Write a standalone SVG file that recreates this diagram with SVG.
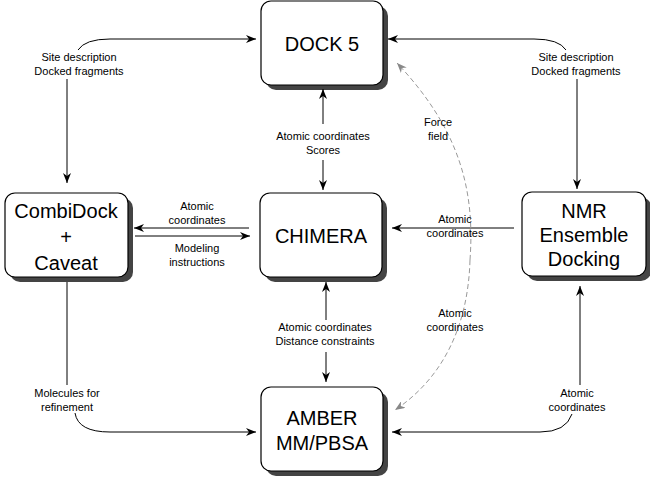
<svg xmlns="http://www.w3.org/2000/svg" width="650" height="477" viewBox="0 0 650 477">
<defs>
<marker id="a" viewBox="0 0 10 8" refX="10" refY="4" markerWidth="10" markerHeight="8" markerUnits="userSpaceOnUse" orient="auto"><path d="M0,0 L10,4 L0,8 L3,4 Z" fill="#000"/></marker>
<marker id="g" viewBox="0 0 10 8" refX="10" refY="4" markerWidth="10" markerHeight="8" markerUnits="userSpaceOnUse" orient="auto"><path d="M0,0 L10,4 L0,8 L3,4 Z" fill="#888"/></marker>
</defs>
<style>
.sh{fill:#444}
.bx{fill:#fff;stroke:#000;stroke-width:1.2}
.bt{font-family:"Liberation Sans",Arial,sans-serif;font-size:20px;text-anchor:middle;fill:#000}
.lb{font-family:"Liberation Sans",Arial,sans-serif;font-size:11px;text-anchor:middle;fill:#000}
.c{fill:none;stroke:#000;stroke-width:1}
.d{fill:none;stroke:#999;stroke-width:1;stroke-dasharray:5,3}
</style>
<rect width="650" height="477" fill="#fff"/>
<g id="dock5"><rect class="sh" x="266" y="6" width="122" height="84" rx="10"/><rect class="bx" x="261" y="1" width="122" height="84" rx="10"/><text class="bt" x="322" y="51">DOCK 5</text></g>
<g id="chimera"><rect class="sh" x="265" y="198" width="122" height="84" rx="10"/><rect class="bx" x="260" y="193" width="122" height="84" rx="10"/><text class="bt" x="321" y="243">CHIMERA</text></g>
<g id="combidock"><rect class="sh" x="10" y="198" width="123" height="84" rx="10"/><rect class="bx" x="5" y="193" width="123" height="84" rx="10"/><text class="bt" x="66" y="218">CombiDock</text><text class="bt" x="66" y="244">+</text><text class="bt" x="66" y="270">Caveat</text></g>
<g id="nmr"><rect class="sh" x="527" y="197" width="124" height="84" rx="10"/><rect class="bx" x="522" y="192" width="124" height="84" rx="10"/><text class="bt" x="584" y="218">NMR</text><text class="bt" x="584" y="242">Ensemble</text><text class="bt" x="584" y="266">Docking</text></g>
<g id="amber"><rect class="sh" x="266" y="392" width="122" height="84" rx="10"/><rect class="bx" x="261" y="387" width="122" height="84" rx="10"/><text class="bt" x="322" y="425">AMBER</text><text class="bt" x="322" y="450">MM/PBSA</text></g>
<g id="connectors">
<path class="c" d="M78,50 Q85,39 110,39 L256,39" marker-end="url(#a)"/>
<path class="c" d="M67,79 L67,183" marker-end="url(#a)"/>
<path class="c" d="M566,50 Q559,39 534,39 L388,39" marker-end="url(#a)"/>
<path class="c" d="M577,79 L577,189" marker-end="url(#a)"/>
<path class="c" d="M323,124 L323,89" marker-end="url(#a)"/>
<path class="c" d="M323,160 L323,190" marker-end="url(#a)"/>
<path class="c" d="M249,228 L134,228" marker-end="url(#a)"/>
<path class="c" d="M135,236 L250,236" marker-end="url(#a)"/>
<path class="c" d="M514,228 L392,228" marker-end="url(#a)"/>
<path class="c" d="M326,320 L326,282" marker-end="url(#a)"/>
<path class="c" d="M326,352 L326,382" marker-end="url(#a)"/>
<path class="c" d="M67,282 L67,385"/>
<path class="c" d="M75,413 Q78,432 110,432 L256,432" marker-end="url(#a)"/>
<path class="c" d="M572,414 Q566,432 540,432 L392,432" marker-end="url(#a)"/>
<path class="c" d="M580,385 L580,286" marker-end="url(#a)"/>
<path class="d" d="M470,260 C475,190 460,130 397,63" marker-end="url(#g)"/>
<path class="d" d="M470,260 C468,330 440,380 395,410" marker-end="url(#g)"/>
</g>
<g id="labels">
<text class="lb" x="79" y="61">Site description</text><text class="lb" x="79" y="75">Docked fragments</text>
<text class="lb" x="576" y="61">Site description</text><text class="lb" x="576" y="75">Docked fragments</text>
<text class="lb" x="323" y="140">Atomic coordinates</text><text class="lb" x="323" y="154">Scores</text>
<text class="lb" x="197" y="210">Atomic</text><text class="lb" x="197" y="224">coordinates</text>
<text class="lb" x="197" y="252">Modeling</text><text class="lb" x="197" y="266">instructions</text>
<text class="lb" x="455" y="223">Atomic</text><text class="lb" x="455" y="237">coordinates</text>
<text class="lb" x="438" y="126">Force</text><text class="lb" x="438" y="140">field</text>
<text class="lb" x="325" y="331">Atomic coordinates</text><text class="lb" x="325" y="345">Distance constraints</text>
<text class="lb" x="455" y="317">Atomic</text><text class="lb" x="455" y="331">coordinates</text>
<text class="lb" x="67" y="397">Molecules for</text><text class="lb" x="67" y="411">refinement</text>
<text class="lb" x="577" y="397">Atomic</text><text class="lb" x="577" y="411">coordinates</text>
</g>
</svg>
